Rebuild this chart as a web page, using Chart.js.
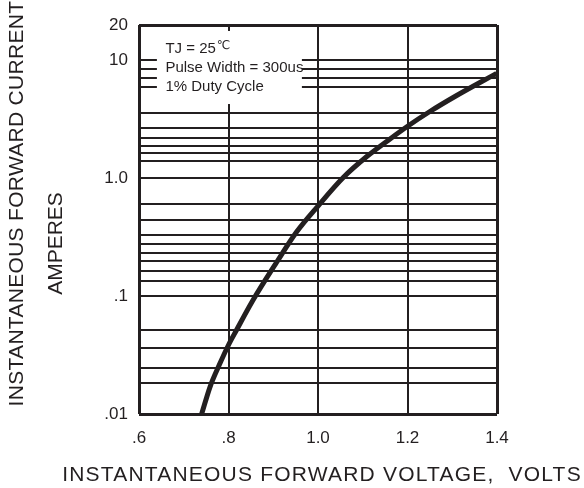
<!DOCTYPE html>
<html>
<head>
<meta charset="utf-8">
<script src="https://cdn.jsdelivr.net/npm/chart.js@4.4.1/dist/chart.umd.min.js"></script>
<style>
  html, body { margin: 0; padding: 0; background: #fff; }
</style>
</head>
<body>
<canvas id="chartIF" width="584" height="488"></canvas>
<script>
// Forward voltage (V) vs. instantaneous forward current (A)
const VOLTS = [0.740, 0.759, 0.781, 0.800, 0.818, 0.853, 0.908, 0.952, 1.000, 1.057, 1.109, 1.161, 1.201, 1.250, 1.306, 1.399];
const AMPS  = [0.0100, 0.0171, 0.0269, 0.0385, 0.0516, 0.0901, 0.195, 0.350, 0.582, 1.02, 1.53, 2.16, 2.78, 3.69, 4.95, 7.78];

const X_TICKS = [0.6, 0.8, 1.0, 1.2, 1.4];
const X_LABELS = ['.6', '.8', '1.0', '1.2', '1.4'];

// horizontal grid lines as printed on the sheet (not evenly spaced)
const Y_GRID = [0.01, 0.0184, 0.0244, 0.0365, 0.0516, 0.1, 0.135, 0.164, 0.199, 0.234, 0.277, 0.330, 0.443, 0.602,
                1, 1.40, 1.65, 1.88, 2.19, 2.69, 3.61, 5.99, 7.06, 8.42, 10, 20];
const Y_LABEL_VALUES = [0.01, 0.1, 1, 10, 20];
const Y_LABEL_TEXT = ['.01', '.1', '1.0', '10', '20'];

const NOTE_LINES = ['TJ = 25', 'Pulse Width = 300us', '1% Duty Cycle'];
const NOTE_BOX = { v0: 0.64, v1: 0.964, i0: 4.27, i1: 17.8 };

const INK = '#231f20';
const FONT = '"Liberation Sans", Arial, sans-serif';

Chart.defaults.font.family = FONT;
Chart.defaults.color = INK;

const annotate = {
    id: 'annotate',
    beforeDatasetsDraw(chart) {
        const { ctx, scales: { x, y } } = chart;
        const l = x.getPixelForValue(NOTE_BOX.v0), r = x.getPixelForValue(NOTE_BOX.v1);
        const t = y.getPixelForValue(NOTE_BOX.i1), b = y.getPixelForValue(NOTE_BOX.i0);
        ctx.save();
        ctx.fillStyle = '#fff';
        ctx.fillRect(l, t, r - l, b - t);
        ctx.fillStyle = INK;
        ctx.textBaseline = 'middle';
        ctx.textAlign = 'left';
        ctx.font = '15px ' + FONT;
        const tx = l + 8.5;
        NOTE_LINES.forEach(function (s, i) {
            ctx.fillText(s, tx, t + 18 + i * 19);
        });
        const w = ctx.measureText(NOTE_LINES[0]).width;
        ctx.font = '12px "DejaVu Sans", ' + FONT;
        ctx.fillText('\u2103', tx + w + 1, t + 15);
        ctx.restore();
    },
    afterDraw(chart) {
        const { ctx, chartArea: a } = chart;
        ctx.save();
        ctx.fillStyle = INK;
        ctx.textAlign = 'center';
        ctx.textBaseline = 'middle';
        ctx.font = '21px ' + FONT;
        ctx.letterSpacing = '1.2px';
        ctx.fillText('INSTANTANEOUS FORWARD VOLTAGE,  VOLTS', (a.left + a.right) / 2 + 4, 475);
        ctx.letterSpacing = '0.3px';
        ctx.translate(a.left - 121.5, 203.5);
        ctx.rotate(-Math.PI / 2);
        ctx.fillText('INSTANTANEOUS FORWARD CURRENT', 0, 0);
        ctx.letterSpacing = '0px';
        ctx.fillText('AMPERES', -40, 39);
        ctx.restore();
    }
};

function gridWidth(ctx) {
    const n = ctx.scale.ticks.length;
    return (ctx.index === 0 || ctx.index === n - 1) ? 3 : 2;
}

new Chart(document.getElementById('chartIF'), {
    type: 'line',
    data: {
        datasets: [{
            data: VOLTS.map(function (v, i) { return { x: v, y: AMPS[i] }; }),
            borderColor: INK,
            borderWidth: 5,
            pointRadius: 0,
            cubicInterpolationMode: 'monotone',
            fill: false,
        }],
    },
    options: {
        responsive: false,
        animation: false,
        layout: { padding: { top: 25, right: 87, left: 0, bottom: 0 } },
        plugins: { legend: { display: false }, tooltip: { enabled: false } },
        scales: {
            x: {
                type: 'linear',
                min: 0.6,
                max: 1.4,
                afterBuildTicks: function (s) { s.ticks = X_TICKS.map(function (v) { return { value: v }; }); },
                afterFit: function (s) { s.height = 74; },
                ticks: {
                    autoSkip: false,
                    maxRotation: 0,
                    padding: 14,
                    font: { size: 17 },
                    color: INK,
                    callback: function (v, i) { return X_LABELS[i]; },
                },
                grid: { color: INK, lineWidth: gridWidth, drawTicks: false },
                border: { display: false },
            },
            y: {
                type: 'logarithmic',
                min: 0.01,
                max: 20,
                afterBuildTicks: function (s) { s.ticks = Y_GRID.map(function (v) { return { value: v }; }); },
                afterFit: function (s) { s.width = 139; },
                ticks: {
                    autoSkip: false,
                    padding: 11,
                    font: { size: 17 },
                    color: INK,
                    callback: function (v) {
                        const k = Y_LABEL_VALUES.indexOf(v);
                        return k < 0 ? '' : Y_LABEL_TEXT[k];
                    },
                },
                grid: { color: INK, lineWidth: gridWidth, drawTicks: false },
                border: { display: false },
            },
        },
    },
    plugins: [annotate],
});
</script>
</body>
</html>
